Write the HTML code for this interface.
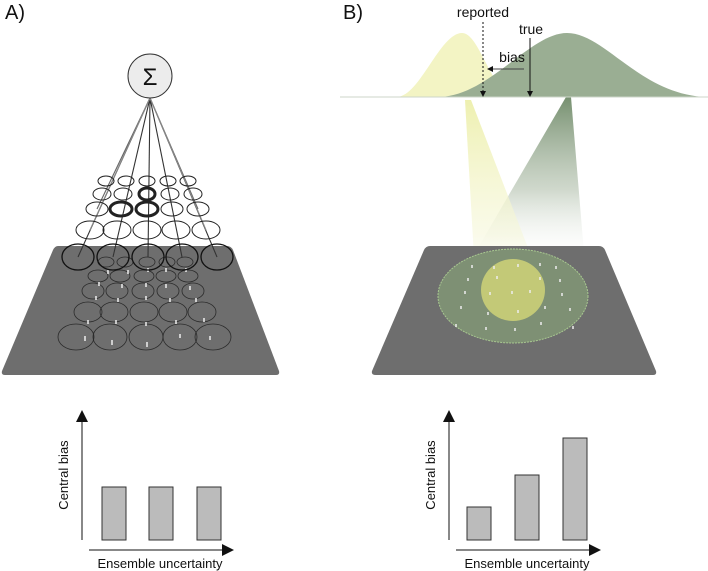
<!DOCTYPE html>
<html><head><meta charset="utf-8"><style>
html,body{margin:0;padding:0;background:#fff;}
svg{display:block;font-family:"Liberation Sans",Arial,sans-serif;}
</style></head><body>
<svg width="708" height="571" viewBox="0 0 708 571" xmlns="http://www.w3.org/2000/svg">
<defs>
<linearGradient id="gb" x1="0" y1="0" x2="0" y2="1">
<stop offset="0" stop-color="#6f8a68" stop-opacity="0.95"/>
<stop offset="0.55" stop-color="#a8b8a2" stop-opacity="0.55"/>
<stop offset="1" stop-color="#ffffff" stop-opacity="0"/>
</linearGradient>
<linearGradient id="yb" x1="0" y1="0" x2="0" y2="1">
<stop offset="0" stop-color="#eef0b0" stop-opacity="1"/>
<stop offset="0.7" stop-color="#f6f7da" stop-opacity="0.6"/>
<stop offset="1" stop-color="#ffffff" stop-opacity="0.2"/>
</linearGradient>
<marker id="ah" markerWidth="6" markerHeight="6" refX="5" refY="3" orient="auto" markerUnits="userSpaceOnUse">
<path d="M0,0 L6,3 L0,6 z" fill="#111"/></marker>
</defs>

<text x="5" y="19" font-size="20" fill="#111">A)</text>
<text x="343" y="19" font-size="20" fill="#111">B)</text>

<path d="M58,246 L227,246 Q231,246 233,250 L279,371 Q280,375 276,375 L5,375 Q1,375 2,371 L53,250 Q55,246 58,246 Z" fill="#6e6e6e"/>

<g fill="none" stroke="#2a2a2a" stroke-width="0.8">
<ellipse cx="106" cy="262" rx="8" ry="5"/><ellipse cx="125" cy="262" rx="8" ry="5"/><ellipse cx="147" cy="262" rx="8" ry="5"/><ellipse cx="167" cy="262" rx="8" ry="5"/><ellipse cx="185" cy="262" rx="8" ry="5"/>
<ellipse cx="98" cy="276" rx="10" ry="6"/><ellipse cx="120" cy="276" rx="10" ry="6"/><ellipse cx="144" cy="276" rx="10" ry="6"/><ellipse cx="166" cy="276" rx="10" ry="6"/><ellipse cx="188" cy="276" rx="10" ry="6"/>
<ellipse cx="93" cy="291" rx="11" ry="8"/><ellipse cx="117" cy="291" rx="11" ry="8"/><ellipse cx="143" cy="291" rx="11" ry="8"/><ellipse cx="168" cy="291" rx="11" ry="8"/><ellipse cx="193" cy="291" rx="11" ry="8"/>
<ellipse cx="88" cy="312" rx="14" ry="10"/><ellipse cx="114" cy="312" rx="14" ry="10"/><ellipse cx="144" cy="312" rx="14" ry="10"/><ellipse cx="173" cy="312" rx="14" ry="10"/><ellipse cx="202" cy="312" rx="14" ry="10"/>
<ellipse cx="76" cy="337" rx="18" ry="13"/><ellipse cx="110" cy="337" rx="17" ry="13"/><ellipse cx="146" cy="337" rx="17" ry="13"/><ellipse cx="180" cy="337" rx="17" ry="13"/><ellipse cx="213" cy="337" rx="18" ry="13"/>
</g>
<g stroke="#eee" stroke-width="1.5">
<path d="M108,270v4M128,270v4M148,268v4M166,268v4M186,268v4M99,282v4M122,284v4M146,283v4M166,284v4M190,286v4M96,296v4M118,298v4M146,296v4M170,298v4M196,298v4M88,320v4M116,320v4M146,322v4M176,320v4M204,318v4M85,336v5M112,340v5M147,342v5M180,334v4M210,336v4"/>
</g>

<g stroke="#333" stroke-width="1.1">
<line x1="150" y1="98" x2="78" y2="257"/><line x1="150" y1="98" x2="113" y2="257"/><line x1="150" y1="98" x2="148" y2="257"/><line x1="150" y1="98" x2="182" y2="257"/><line x1="150" y1="98" x2="217" y2="257"/>
<line x1="150" y1="98" x2="97" y2="209" stroke="#666"/><line x1="150" y1="98" x2="198" y2="209" stroke="#666"/><line x1="150" y1="98" x2="90" y2="230" stroke="#888"/><line x1="150" y1="98" x2="206" y2="230" stroke="#888"/>
</g>

<g fill="none" stroke="#222" stroke-width="1">
<ellipse cx="106" cy="181" rx="8" ry="5"/><ellipse cx="126" cy="181" rx="8" ry="5"/><ellipse cx="147" cy="181" rx="8" ry="5"/><ellipse cx="168" cy="181" rx="8" ry="5"/><ellipse cx="188" cy="181" rx="8" ry="5"/>
<ellipse cx="102" cy="194" rx="9" ry="6"/><ellipse cx="123" cy="194" rx="9" ry="6"/><ellipse cx="170" cy="194" rx="9" ry="6"/><ellipse cx="193" cy="194" rx="9" ry="6"/>
<ellipse cx="97" cy="209" rx="11" ry="7"/><ellipse cx="172" cy="209" rx="11" ry="7"/><ellipse cx="198" cy="209" rx="11" ry="7"/>
<ellipse cx="90" cy="230" rx="14" ry="9"/><ellipse cx="117" cy="230" rx="14" ry="9"/><ellipse cx="147" cy="230" rx="14" ry="9"/><ellipse cx="176" cy="230" rx="14" ry="9"/><ellipse cx="206" cy="230" rx="14" ry="9"/>
<ellipse cx="78" cy="257" rx="16" ry="13" stroke="#111" stroke-width="1.3"/><ellipse cx="113" cy="257" rx="16" ry="13" stroke="#111" stroke-width="1.3"/><ellipse cx="148" cy="257" rx="16" ry="13" stroke="#111" stroke-width="1.3"/><ellipse cx="182" cy="257" rx="16" ry="13" stroke="#111" stroke-width="1.3"/><ellipse cx="217" cy="257" rx="16" ry="13" stroke="#111" stroke-width="1.3"/>
<ellipse cx="147" cy="194" rx="8" ry="6" stroke-width="3"/>
<ellipse cx="121" cy="209" rx="11" ry="7" stroke-width="3"/>
<ellipse cx="147" cy="209" rx="11" ry="7" stroke-width="3"/>
</g>

<circle cx="150" cy="76" r="22" fill="#ececec" stroke="#333" stroke-width="1"/>
<text x="150" y="85" font-size="24" text-anchor="middle" fill="#111">Σ</text>

<polygon points="566,97 571,97 585,265 468,265" fill="url(#gb)"/>
<polygon points="465,100 471,100 545,292 476,292" fill="url(#yb)"/>

<path d="M430,246 L599,246 Q603,246 605,250 L656,371 Q657,375 653,375 L376,375 Q371,375 372,371 L424,250 Q426,246 430,246 Z" fill="#6e6e6e"/>
<ellipse cx="513" cy="296" rx="75" ry="47" fill="#7e9074" stroke="#a8c890" stroke-width="1" stroke-dasharray="2,1"/>
<ellipse cx="513" cy="290" rx="32" ry="31" fill="#c3c977"/>
<g stroke="#eee" stroke-width="1.5">
<path d="M472,265v3M494,266v3M518,264v3M540,263v3M556,266v3M468,278v3M497,276v3M540,277v3M560,279v3M465,291v3M490,292v3M512,291v3M530,290v3M562,293v3M461,306v3M488,312v3M518,310v3M545,306v3M570,308v3M456,324v3M486,327v3M515,328v3M541,322v3M573,326v3"/>
</g>

<path d="M397,97 C420,96 440,33 462,33 C478,33 488,80 510,97 Z" fill="#f3f4c4"/>
<path d="M440,97 C490,95 530,33 567,33 C605,33 640,95 707,97 Z" fill="#9aae93"/>
<line x1="340" y1="97" x2="708" y2="97" stroke="#ccd6c8" stroke-width="1"/>
<line x1="483" y1="22" x2="483" y2="96" stroke="#111" stroke-width="1" stroke-dasharray="2,2" marker-end="url(#ah)"/>
<line x1="530" y1="38" x2="530" y2="96" stroke="#111" stroke-width="1" marker-end="url(#ah)"/>
<line x1="524" y1="69" x2="488" y2="69" stroke="#444" stroke-width="1" marker-end="url(#ah)"/>
<text x="483" y="17" font-size="14" text-anchor="middle" fill="#111">reported</text>
<text x="531" y="34" font-size="14" text-anchor="middle" fill="#111">true</text>
<text x="512" y="62" font-size="14" text-anchor="middle" fill="#111">bias</text>

<g stroke="#111" stroke-width="1">
<line x1="82" y1="540" x2="82" y2="420"/>
<line x1="89" y1="550" x2="222" y2="550"/>
</g>
<path d="M76,422 L82,410 L88,422 Z M222,544 L234,550 L222,556 Z" fill="#111"/>
<g fill="#bbb" stroke="#333" stroke-width="1">
<rect x="102" y="487" width="24" height="53"/><rect x="149" y="487" width="24" height="53"/><rect x="197" y="487" width="24" height="53"/>
</g>
<text x="160" y="568" font-size="13" text-anchor="middle" fill="#111">Ensemble uncertainty</text>
<text transform="translate(68,475) rotate(-90)" font-size="13" text-anchor="middle" fill="#111">Central bias</text>

<g stroke="#111" stroke-width="1">
<line x1="449" y1="540" x2="449" y2="420"/>
<line x1="456" y1="550" x2="589" y2="550"/>
</g>
<path d="M443,422 L449,410 L455,422 Z M589,544 L601,550 L589,556 Z" fill="#111"/>
<g fill="#bbb" stroke="#333" stroke-width="1">
<rect x="467" y="507" width="24" height="33"/><rect x="515" y="475" width="24" height="65"/><rect x="563" y="438" width="24" height="102"/>
</g>
<text x="527" y="568" font-size="13" text-anchor="middle" fill="#111">Ensemble uncertainty</text>
<text transform="translate(435,475) rotate(-90)" font-size="13" text-anchor="middle" fill="#111">Central bias</text>
</svg>
</body></html>
